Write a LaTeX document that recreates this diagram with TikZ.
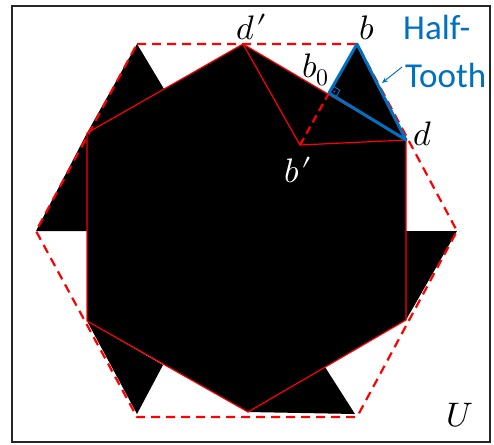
\documentclass[tikz,border=0pt]{standalone}
\usepackage{fontspec}
\usepackage{unicode-math}
\setmathfont{Latin Modern Math}
\newfontfamily\calib{Carlito}
\usetikzlibrary{calc,arrows.meta}
\definecolor{offblue}{RGB}{0,112,192}
\definecolor{hexred}{RGB}{255,0,0}
\begin{document}
\begin{tikzpicture}[x=1pt,y=-1pt,
  inner/.style={draw=hexred,line width=1.2pt},
  outer/.style={draw=hexred,line width=2.2pt,dash pattern=on 9pt off 6pt},
  lbl/.style={inner sep=0pt,anchor=base west,font=\fontsize{34}{40}\selectfont},
  bluetxt/.style={inner sep=0pt,anchor=base west,text=offblue,font=\calib\fontsize{35}{40}\selectfont},
  halftooth/.style={draw=offblue,line width=3pt,line join=round}]
\useasboundingbox (0,0) rectangle (494,444);
\fill[white] (0,0) rectangle (494,444);
% frame
\draw[black!85,line width=2pt] (12,6) rectangle (490,442);
% outer hexagon
\coordinate (O1) at (137,44);
\coordinate (b)  at (357,44);
\coordinate (O3) at (457,231);
\coordinate (O4) at (357,417);
\coordinate (O5) at (137,417);
\coordinate (O6) at (36,231);
% inner hexagon
\coordinate (dp) at (243,44);
\coordinate (d)  at (406,140);
\coordinate (I3) at (406,320);
\coordinate (I4) at (248,412);
\coordinate (I5) at (87,321);
\coordinate (I6) at (87,133);
\coordinate (bp) at (300,145);
\coordinate (b0) at (329,93);
% teeth feet
\coordinate (f2) at (164,89);
\coordinate (f3) at (87,231);
\coordinate (f4) at (163,365);
\coordinate (f5) at (325,367);
\coordinate (f6) at (406,231);
\coordinate (a4) at (137,414);
\coordinate (a5) at (355,414);
% black fill
\fill[black] (dp) -- (d) -- (I3) -- (I4) -- (I5) -- (I6) -- cycle;
\fill[black] (b) -- (b0) -- (d) -- cycle;
\fill[black] (O1) -- (f2) -- (I6) -- cycle;
\fill[black] (O6) -- (f3) -- (I6) -- cycle;
\fill[black] (a4) -- (f4) -- (I5) -- cycle;
\fill[black] (a5) -- (f5) -- (I4) -- cycle;
\fill[black] (O3) -- (f6) -- (I3) -- cycle;
% inner hexagon edges
\draw[inner] (dp) -- (d) -- (I3) -- (I4) -- (I5) -- (I6) -- cycle;
\draw[inner] (dp) -- (bp) -- (d);
\draw[hexred,line width=2.2pt,dash pattern=on 8pt off 5pt] (bp) -- (b0);
% outer hexagon
\draw[outer] (O1) -- (b) -- (O3) -- (O4) -- (O5) -- (O6) -- cycle;
% half tooth
\draw[halftooth] (b) -- (b0) -- (d) -- cycle;
\draw[offblue,line width=1pt]
  ($(b0)!8pt!(b)$) -- ($(b0)!8pt!(b) + (b0)!8pt!(d) - (b0)$) -- ($(b0)!8pt!(d)$);
\fill[offblue] ($(b0)!4pt!(b) + (b0)!4pt!(d) - (b0)$) circle (1.2pt);
% labels
\node[lbl] (ldp) at (236,40) {$d\mkern1mu\prime$};
\node[lbl] (lb) at (359,40) {$b$};
\node[lbl] (lb0) at (302,77) {$b_0$};
\node[lbl] (ld) at (413,145) {$d$};
\node[lbl,text=white] (lbp) at (284,182) {$b\mkern1mu\prime$};
\node[lbl] (lU) at (446,426) {$U$};
\node[bluetxt] (ht1) at (403,40) {Half-};
\node[bluetxt] (ht2) at (405,87) {Tooth};
\coordinate (cs) at (402,67);
\coordinate (ce) at (382,83);
\draw[offblue,line width=1pt,-{Stealth[length=6pt,width=5pt]}] (cs) -- (ce);
\end{tikzpicture}
\end{document}
